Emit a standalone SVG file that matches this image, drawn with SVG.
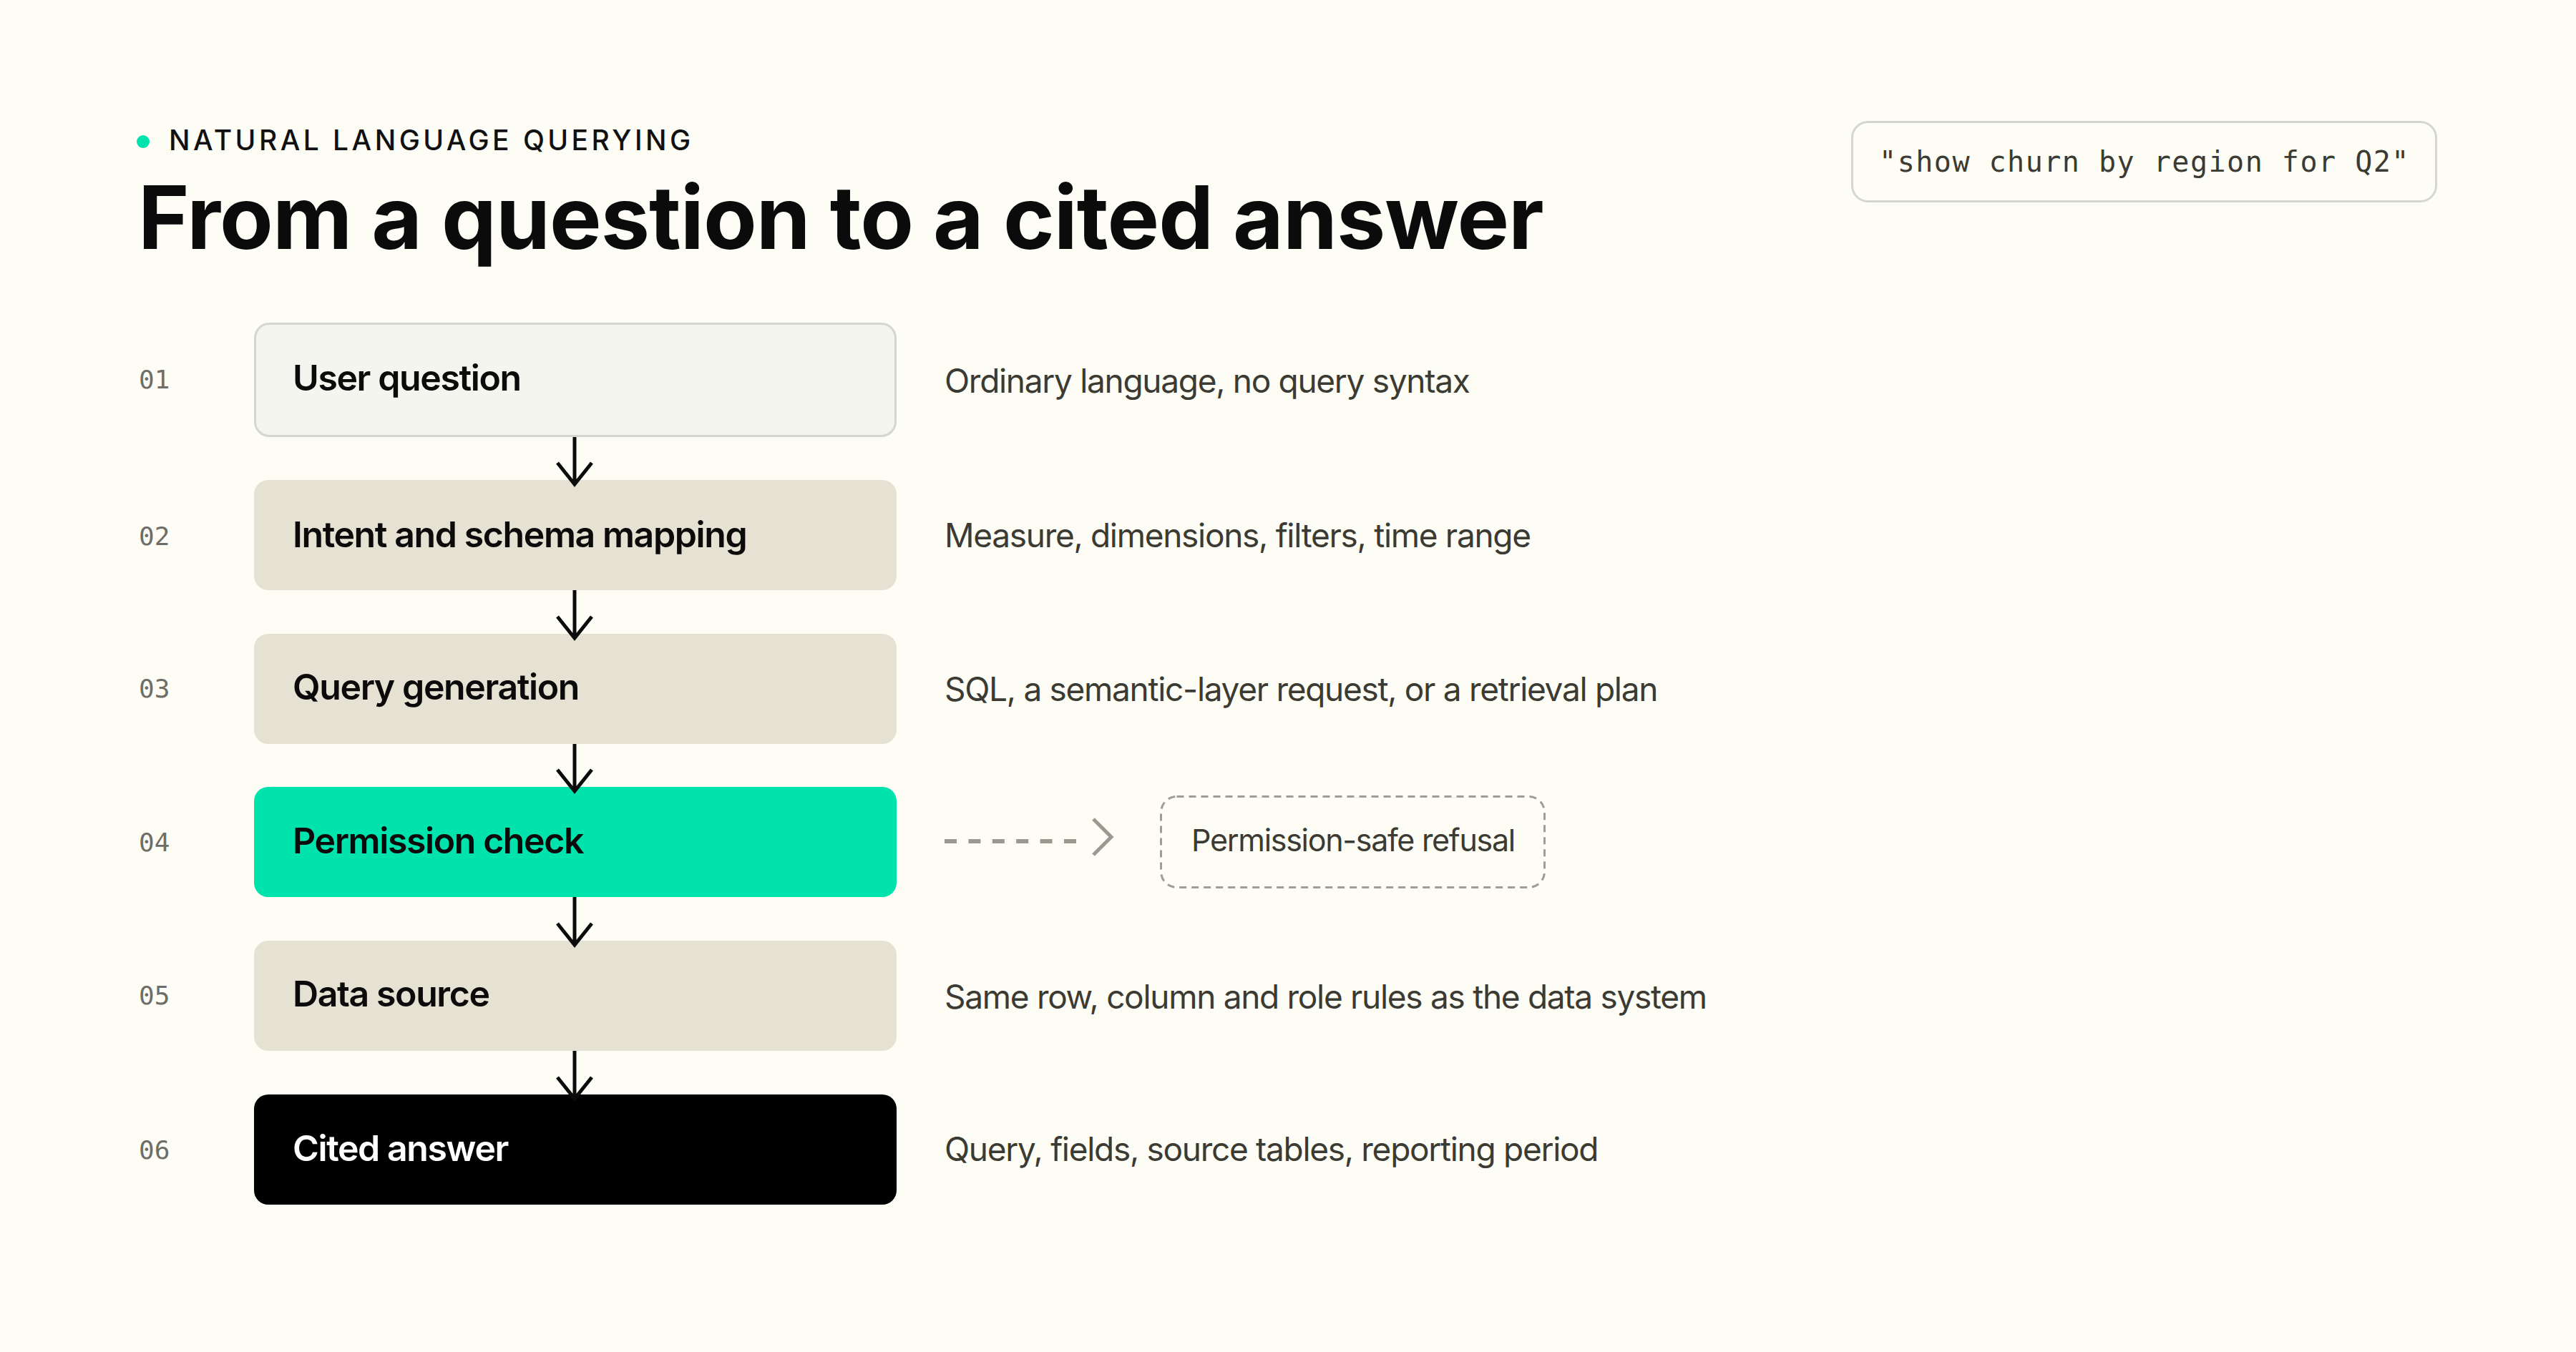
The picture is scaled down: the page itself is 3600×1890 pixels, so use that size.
<svg xmlns="http://www.w3.org/2000/svg" width="3600" height="1890" viewBox="0 0 3600 1890">
  <style>
    .sans { font-family: Inter, "Noto Sans", "Liberation Sans", sans-serif; }
    .mono { font-family: "DejaVu Sans Mono", "Liberation Mono", monospace; }
    .num { font-family: "DejaVu Sans Mono", "Liberation Mono", monospace; font-size: 36px; fill: #6e6e68; }
    .label { font-family: Inter, "Noto Sans", "Liberation Sans", sans-serif; font-size: 50px; font-weight: 600; letter-spacing: -1.4px; fill: #0b0b0b; }
    .desc { font-family: Inter, "Noto Sans", "Liberation Sans", sans-serif; font-size: 46px; font-weight: 400; letter-spacing: -1.3px; fill: #3b3a33; }
    .refusal { font-family: Inter, "Noto Sans", "Liberation Sans", sans-serif; font-size: 43px; font-weight: 400; letter-spacing: -1.3px; fill: #3b3a33; }
    .box { fill: #e6e2d3; }
    .arrow { fill: none; stroke: #0b0b0b; stroke-width: 5; }
  </style>
  <rect x="0" y="0" width="3600" height="1890" fill="#fdfdf5"/>

  <g id="header">
    <circle cx="200" cy="198" r="9" fill="#00e3ad"/>
    <text class="sans" x="236" y="210" font-size="39" font-weight="500" letter-spacing="4.45" fill="#111111">NATURAL LANGUAGE QUERYING</text>
    <text class="sans" x="193" y="348" font-size="122" font-weight="700" letter-spacing="-0.95" fill="#0b0b0b">From a question to a cited answer</text>
  </g>

  <g id="example-query">
    <rect x="2588.5" y="170.5" width="816" height="111" rx="22" fill="#fdfdf5" stroke="#d6d6d0" stroke-width="3"/>
    <text class="mono" x="2997" y="240" font-size="40" letter-spacing="1.5" text-anchor="middle" fill="#3b3a33">"show churn by region for Q2"</text>
  </g>

  <g id="step-01">
    <text class="num" x="194" y="543">01</text>
    <rect x="356.5" y="452.5" width="895" height="157" rx="20" fill="#f5f5ef" stroke="#d6d6d0" stroke-width="3"/>
    <text class="label" x="409" y="546">User question</text>
    <text class="desc" x="1320" y="549">Ordinary language, no query syntax</text>
  </g>

  <g id="step-02">
    <text class="num" x="194" y="762">02</text>
    <rect class="box" x="355" y="671" width="898" height="154" rx="20"/>
    <text class="label" x="409" y="765">Intent and schema mapping</text>
    <text class="desc" x="1320" y="765">Measure, dimensions, filters, time range</text>
  </g>

  <g id="step-03">
    <text class="num" x="194" y="975">03</text>
    <rect class="box" x="355" y="886" width="898" height="154" rx="20"/>
    <text class="label" x="409" y="978">Query generation</text>
    <text class="desc" x="1320" y="980">SQL, a semantic-layer request, or a retrieval plan</text>
  </g>

  <g id="step-04">
    <text class="num" x="194" y="1190">04</text>
    <rect x="355" y="1100" width="898" height="154" rx="20" fill="#00e3ad"/>
    <text class="label" x="409" y="1193">Permission check</text>
  </g>

  <g id="refusal">
    <rect x="1622.5" y="1113.5" width="536" height="127" rx="22" fill="none" stroke="#9e9e96" stroke-width="3" stroke-dasharray="10 7"/>
    <text class="refusal" x="1891" y="1190" text-anchor="middle">Permission-safe refusal</text>
  </g>

  <g id="step-05">
    <text class="num" x="194" y="1404">05</text>
    <rect class="box" x="355" y="1315" width="898" height="154" rx="20"/>
    <text class="label" x="409" y="1407">Data source</text>
    <text class="desc" x="1320" y="1410">Same row, column and role rules as the data system</text>
  </g>

  <g id="step-06">
    <text class="num" x="194" y="1620">06</text>
    <rect x="355" y="1530" width="898" height="154" rx="20" fill="#000000"/>
    <text class="label" x="409" y="1623" style="fill:#ffffff">Cited answer</text>
    <text class="desc" x="1320" y="1623">Query, fields, source tables, reporting period</text>
  </g>

  <g id="connectors">
    <path class="arrow" d="M803,611 V676 M779,647 L803,677 L827,647"/>
    <path class="arrow" d="M803,825 V891 M779,862 L803,892 L827,862"/>
    <path class="arrow" d="M803,1040 V1105 M779,1076 L803,1106 L827,1076"/>
    <path class="arrow" d="M803,1254 V1320 M779,1291 L803,1321 L827,1291"/>
    <path class="arrow" d="M803,1469 V1535 M779,1506 L803,1536 L827,1506"/>
    <path d="M1320,1176 H1504" fill="none" stroke="#9a9a90" stroke-width="6" stroke-dasharray="17 16.4"/>
    <path d="M1528,1145 L1553,1170 L1528,1195" fill="none" stroke="#9a9a90" stroke-width="5"/>
  </g>
</svg>
